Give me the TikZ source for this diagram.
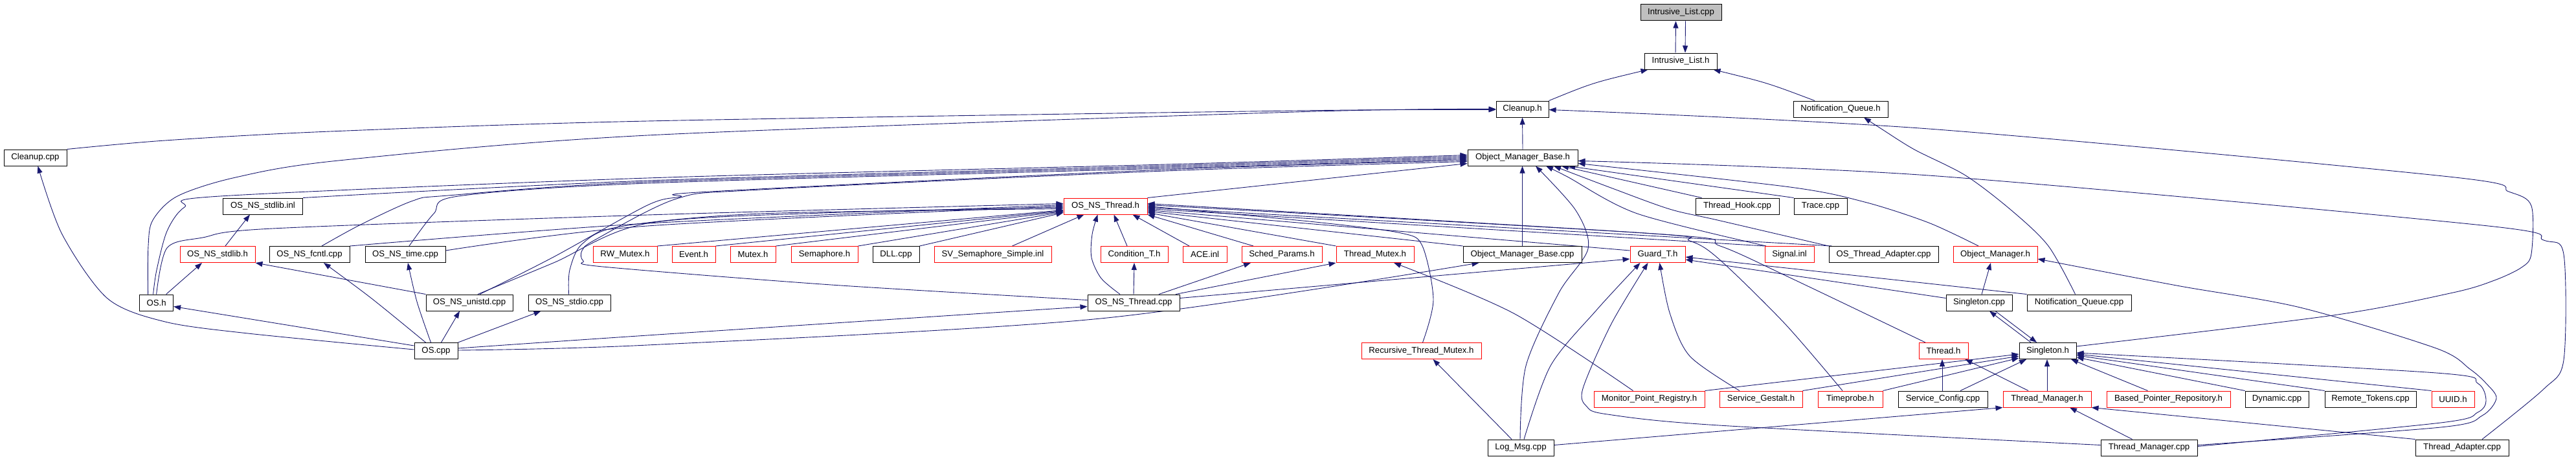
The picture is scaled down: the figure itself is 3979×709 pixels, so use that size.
\documentclass[tikz,border=0pt]{standalone}
\usepackage{fontspec}
\setmainfont{Liberation Sans}
\usetikzlibrary{arrows.meta}
\definecolor{edgec}{HTML}{191970}
\definecolor{boxred}{HTML}{FF0000}
\definecolor{boxgray}{HTML}{BFBFBF}
\newcommand{\nodefont}{\fontsize{13.2}{15}\selectfont}
\pgfdeclarelayer{bg}
\pgfsetlayers{bg,main}
\begin{document}
\begin{tikzpicture}[x=1pt,y=-1pt,
  box/.style={draw=black,line width=1pt,minimum height=25pt,inner sep=0pt,font=\nodefont,fill=white},
  rbox/.style={box,draw=boxred},
  e/.style={draw=edgec,line width=0.9pt,-{Triangle[length=11pt,width=8pt]}}]
\useasboundingbox (0,0) rectangle (3979,709);
% row 0-3
\node[box,fill=boxgray,minimum width=125pt] (ilcpp) at (2596.5,19.5) {Intrusive\_List.cpp};
\node[box,minimum width=112pt] (ilh) at (2596,94.5) {Intrusive\_List.h};
\node[box,minimum width=81pt] (cleanh) at (2351.5,168.5) {Cleanup.h};
\node[box,minimum width=146pt] (nqh) at (2843,168.5) {Notification\_Queue.h};
\node[box,minimum width=97pt] (cleancpp) at (54.5,243.5) {Cleanup.cpp};
\node[box,minimum width=170pt] (omb) at (2352,243.5) {Object\_Manager\_Base.h};
% row 4
\node[box,minimum width=123pt] (stdlibinl) at (406,318.5) {OS\_NS\_stdlib.inl};
\node[rbox,minimum width=129pt] (osnsthreadh) at (1707.5,318.5) {OS\_NS\_Thread.h};
\node[box,minimum width=129pt] (threadhook) at (2683.5,318.5) {Thread\_Hook.cpp};
\node[box,minimum width=82pt] (tracecpp) at (2812,318.5) {Trace.cpp};
% row 5
\node[rbox,minimum width=116pt] (stdlibh) at (336,393) {OS\_NS\_stdlib.h};
\node[box,minimum width=124pt] (fcntl) at (478,393) {OS\_NS\_fcntl.cpp};
\node[box,minimum width=124pt] (timecpp) at (626,393) {OS\_NS\_time.cpp};
\node[rbox,minimum width=99pt] (rwmutex) at (965.5,393) {RW\_Mutex.h};
\node[rbox,minimum width=67pt] (eventh) at (1071.5,393) {Event.h};
\node[rbox,minimum width=70pt] (mutexh) at (1163,393) {Mutex.h};
\node[rbox,minimum width=103pt] (semh) at (1273.5,393) {Semaphore.h};
\node[box,minimum width=72pt] (dllcpp) at (1384,393) {DLL.cpp};
\node[rbox,minimum width=181pt] (svsem) at (1533.5,393) {SV\_Semaphore\_Simple.inl};
\node[rbox,minimum width=104pt] (condt) at (1752,393) {Condition\_T.h};
\node[rbox,minimum width=68pt] (aceinl) at (1861,393) {ACE.inl};
\node[rbox,minimum width=124pt] (sched) at (1980,393) {Sched\_Params.h};
\node[rbox,minimum width=120pt] (thrmutex) at (2124,393) {Thread\_Mutex.h};
\node[box,minimum width=183pt] (ombcpp) at (2351.5,393) {Object\_Manager\_Base.cpp};
\node[rbox,minimum width=85pt] (guardt) at (2560.5,393) {Guard\_T.h};
\node[rbox,minimum width=76pt] (signalinl) at (2764,393) {Signal.inl};
\node[box,minimum width=169pt] (osthradapt) at (2909.5,393) {OS\_Thread\_Adapter.cpp};
\node[rbox,minimum width=130pt] (omh) at (3082,393) {Object\_Manager.h};
% row 6
\node[box,minimum width=52pt] (osh) at (241.6,467.5) {OS.h};
\node[box,minimum width=134pt] (unistd) at (725,467.5) {OS\_NS\_unistd.cpp};
\node[box,minimum width=127pt] (stdio) at (879.5,467.5) {OS\_NS\_stdio.cpp};
\node[box,minimum width=142pt] (osnsthreadcpp) at (1751,467.5) {OS\_NS\_Thread.cpp};
\node[box,minimum width=102pt] (singcpp) at (3057,467.5) {Singleton.cpp};
\node[box,minimum width=161pt] (nqcpp) at (3211.5,467.5) {Notification\_Queue.cpp};
% row 7
\node[box,minimum width=67pt] (oscpp) at (673.5,542) {OS.cpp};
\node[rbox,minimum width=185pt] (recthr) at (2195.5,542) {Recursive\_Thread\_Mutex.h};
\node[rbox,minimum width=76pt] (threadh) at (3002,542) {Thread.h};
\node[box,minimum width=88pt] (singh) at (3163,542) {Singleton.h};
% row 8
\node[rbox,minimum width=171pt] (mpr) at (2547.5,616.5) {Monitor\_Point\_Registry.h};
\node[rbox,minimum width=128pt] (sgest) at (2720,616.5) {Service\_Gestalt.h};
\node[rbox,minimum width=100pt] (tprobe) at (2858,616.5) {Timeprobe.h};
\node[box,minimum width=138pt] (sconf) at (3001,616.5) {Service\_Config.cpp};
\node[rbox,minimum width=136pt] (tmh) at (3162,616.5) {Thread\_Manager.h};
\node[rbox,minimum width=191pt] (bpr) at (3349.5,616.5) {Based\_Pointer\_Repository.h};
\node[box,minimum width=98pt] (dyncpp) at (3517,616.5) {Dynamic.cpp};
\node[box,minimum width=141pt] (rtok) at (3661.5,616.5) {Remote\_Tokens.cpp};
\node[rbox,minimum width=66pt] (uuid) at (3789,616.5) {UUID.h};
% row 9
\node[box,minimum width=102pt] (logmsg) at (2349,691.5) {Log\_Msg.cpp};
\node[box,minimum width=149pt] (tmcpp) at (3319.5,691.5) {Thread\_Manager.cpp};
\node[box,minimum width=144pt] (tacpp) at (3803,691.5) {Thread\_Adapter.cpp};

\begin{pgfonlayer}{bg}
% top
\draw[e] ([xshift=-8pt]ilh.north) -- ([xshift=-8pt]ilcpp.south);
\draw[e] ([xshift=7pt]ilcpp.south) -- ([xshift=7pt]ilh.north);
\draw[e] (cleanh.north east) .. controls (2460,128) .. ([xshift=6pt]ilh.south west);
\draw[e] ([xshift=-40pt]nqh.north) .. controls (2730,128) .. ([xshift=-6pt]ilh.south east);
\draw[e] (omb.north) -- (cleanh.south);
% into Cleanup.h
\draw[e] plot[smooth,tension=0.5] coordinates {(cleancpp.north east) (255,217) (510,203) (1000,187) (2000,171) ([yshift=-1pt]cleanh.west)};
\draw[e] plot[smooth,tension=0.5] coordinates {([xshift=-13pt]osh.north) (229,380) (236,340) (274,303) (364,274) (523,248) (1000,209) (2000,173) (cleanh.west)};
\draw[e] plot[smooth,tension=0.5] coordinates {([yshift=-6pt]singh.north east) (3604,487) (3789,452) (3853,433) (3895,413) (3910,392) (3910,318) (3875,296) (3783,273) (2979,199) ([yshift=-1pt]cleanh.east)};
% OS.cpp -> Cleanup.cpp
\draw[e] plot[smooth,tension=0.5] coordinates {([yshift=2pt]oscpp.west) (383,515) (255,497) (166,461) (96,362) ([xshift=4pt]cleancpp.south)};
% right side into OMB.h
\draw[e] plot[smooth,tension=0.5] coordinates {([xshift=31pt]tacpp.north) (3929,601) (3960,556) (3960,393) (3929,371) (3834,348) (2979,271) ([yshift=-5pt]omb.east)};
\draw[e] plot[smooth,tension=0.5] coordinates {([xshift=-26pt]omh.north) (2979,344) (2880,312) (2765,289) ([yshift=-9pt]omb.east)};
% NQ
\draw[e] plot[smooth,tension=0.5] coordinates {([xshift=-6pt]nqcpp.north) (3164,380) (3107,325) (3036,271) (2957,231) (2906,199) ([xshift=36pt]nqh.south)};
% Object_Manager.h
\draw[e] ([xshift=4pt]singcpp.north) -- ([xshift=-7pt]omh.south);
\draw[e] plot[smooth,tension=0.5] coordinates {([yshift=4pt]tmcpp.east) (3770,660) (3834,642) (3856,615) (3840,592) (3815,570) (3763,538) (3553,475) (3362,441) ([yshift=-7pt]omh.east)};
% Singleton cycle
\draw[e] ([xshift=-26pt]singh.north) -- ([xshift=16pt]singcpp.south);
\draw[e] ([xshift=25pt]singcpp.south) -- ([xshift=-17pt]singh.north);
% Guard_T.h east
\draw[e] (nqcpp.north west) -- ([yshift=-4pt]guardt.east);
\draw[e] ([yshift=7pt]singcpp.west) -- ([yshift=-8pt]guardt.east);
% into Singleton.h
\draw[e] plot[smooth,tension=0.5] coordinates {([yshift=2pt]tmcpp.east) (3770,653) (3827,637) (3840,619) (3827,592) (3763,576) ([yshift=-3pt]singh.east)};
\draw[e] (uuid.north west) -- ([yshift=-5pt]singh.east);
\draw[e] (rtok.north west) -- ([yshift=-7pt]singh.east);
\draw[e] (dyncpp.north west) -- ([yshift=-10pt]singh.east);
\draw[e] ([xshift=-32pt]bpr.north) -- ([xshift=36pt]singh.south);
\draw[e] (tmh.north) -- (tmh.north |- singh.south);
\draw[e] ([xshift=27pt]sconf.north) -- ([xshift=-33pt]singh.south);
\draw[e] (tprobe.north east) -- ([yshift=-11pt]singh.west);
\draw[e] (sgest.north east) -- ([yshift=-8pt]singh.west);
\draw[e] (mpr.north east) -- ([yshift=-5pt]singh.west);
% Thread.h
\draw[e] ([xshift=-1pt]sconf.north) -- ([xshift=-2pt]threadh.south);
\draw[e] ([xshift=-29pt]tmh.north) -- ([xshift=-5pt]threadh.south east);
% Thread_Manager.h
\draw[e] ([yshift=4pt]logmsg.east) -- (tmh.south west);
\draw[e] ([xshift=-26pt]tmcpp.north) -- ([xshift=35pt]tmh.south);
\draw[e] (tacpp.north west) -- (tmh.south east);
% Guard_T.h bottom
\draw[e] plot[smooth,tension=0.5] coordinates {([yshift=4pt]tmcpp.west) (2655,657) (2483,640) (2451,628) (2445,600) (2489,500) ([xshift=-15pt]guardt.south)};
\draw[e] plot[smooth,tension=0.5] coordinates {([xshift=-33pt]sgest.north) (2610,550) (2579,483) ([xshift=3pt]guardt.south)};
\draw[e] plot[smooth,tension=0.5] coordinates {([xshift=5pt]logmsg.north) (2395,565) (2466,479) ([xshift=-27pt]guardt.south)};
% Log_Msg
\draw[e] plot[smooth,tension=0.5] coordinates {([xshift=-1pt]logmsg.north) (2357,565) (2408,452) (2453,384) (2434,325) ([xshift=20pt]omb.south)};
\draw[e] ([xshift=-14pt]logmsg.north) -- ([xshift=18pt]recthr.south);
\draw[e] plot[smooth,tension=0.5] coordinates {([xshift=-25pt]mpr.north) (2338,484) ([xshift=29pt]thrmutex.south)};
% OMB bottom
\draw[e] (ombcpp.north) -- (ombcpp.north |- omb.south);
\draw[e] plot[smooth,tension=0.5] coordinates {([xshift=-36pt]signalinl.north) (2529,330) (2421,273) ([xshift=36pt]omb.south)};
\draw[e] plot[smooth,tension=0.5] coordinates {(osthradapt.north west) (2653,340) (2579,323) (2488,290) ([xshift=48pt]omb.south)};
\draw[e] ([xshift=-55pt]threadhook.north) -- ([xshift=60pt]omb.south);
\draw[e] (tracecpp.north west) -- ([xshift=70pt]omb.south);
\draw[e] (osnsthreadh.north east) -- ([yshift=-9pt]omb.west);
% left bundle into OMB.h
\draw[e] plot[smooth,tension=0.5] coordinates {([xshift=-5pt]osh.north) (242,417) (258,357) (285,320) (340,303) (1000,275) (1800,254) ([yshift=4pt]omb.west)};
\draw[e] plot[smooth,tension=0.5] coordinates {(stdlibinl.north east) (1000,279) (1800,256) ([yshift=2pt]omb.west)};
\draw[e] plot[smooth,tension=0.5] coordinates {([xshift=19pt]fcntl.north) (557,347) (638,310) (692,302) (1000,281) (1800,258) (omb.west)};
\draw[e] plot[smooth,tension=0.5] coordinates {([xshift=6pt]timecpp.north) (670,330) (708,303) (1000,283) (1800,260) ([yshift=-2pt]omb.west)};
\draw[e] plot[smooth,tension=0.5] coordinates {([xshift=16pt]unistd.north) (855,397) (1000,317) (1051,304) (1096,296) (1800,262) ([yshift=-4pt]omb.west)};
\draw[e] plot[smooth,tension=0.5] coordinates {([yshift=4pt]osnsthreadcpp.west) (1284,440) (931,412) (901,403) (899,387) (920,370) (1045,307) (1175,293) (1800,264) ([yshift=-6pt]omb.west)};
% into OS_NS_Thread.h west
\draw[e] plot[smooth,tension=0.5] coordinates {(osh.north) (258,383) (313,367) (421,353) (1000,332) ([yshift=4pt]osnsthreadh.west)};
\draw[e] plot[smooth,tension=0.5] coordinates {(fcntl.north east) (1000,345) ([yshift=2pt]osnsthreadh.west)};
\draw[e] plot[smooth,tension=0.5] coordinates {([yshift=6pt]timecpp.east) (1000,349) (osnsthreadh.west)};
\draw[e] plot[smooth,tension=0.5] coordinates {([xshift=13pt]unistd.north) (855,406) (1000,345) (1300,328) ([yshift=-2pt]osnsthreadh.west)};
\draw[e] plot[smooth,tension=0.5] coordinates {([xshift=-1pt]stdio.north) (880,417) (899,377) (958,350) (1175,330) ([yshift=-4pt]osnsthreadh.west)};
\draw[e] (rwmutex.north east) -- ([yshift=-6pt]osnsthreadh.west);
\draw[e] (eventh.north east) -- ([yshift=-7pt]osnsthreadh.west);
\draw[e] (mutexh.north east) -- ([yshift=-8pt]osnsthreadh.west);
\draw[e] (semh.north east) -- ([yshift=-9pt]osnsthreadh.west);
\draw[e] (dllcpp.north east) -- ([yshift=-10pt]osnsthreadh.west);
\draw[e] ([xshift=30pt]svsem.north) -- ([xshift=-33pt]osnsthreadh.south);
% bottom of OS_NS_Thread.h
\draw[e] plot[smooth,tension=0.5] coordinates {([xshift=-21pt]osnsthreadcpp.north) (1701,430) (1686,398) (1687,362) ([xshift=-12pt]osnsthreadh.south)};
\draw[e] ([xshift=-11pt]condt.north) -- ([xshift=13pt]osnsthreadh.south);
\draw[e] ([xshift=-24pt]aceinl.north) -- ([xshift=42pt]osnsthreadh.south);
\draw[e] ([xshift=-44pt]sched.north) -- (osnsthreadh.south east);
% east of OS_NS_Thread.h
\draw[e] (thrmutex.north west) -- ([yshift=-10pt]osnsthreadh.east);
\draw[e] (ombcpp.north west) -- ([yshift=-8pt]osnsthreadh.east);
\draw[e] ([yshift=6pt]guardt.west) -- ([yshift=-6pt]osnsthreadh.east);
\draw[e] (signalinl.north west) -- ([yshift=-4pt]osnsthreadh.east);
\draw[e] ([xshift=5pt]osthradapt.north west) -- ([yshift=-2pt]osnsthreadh.east);
\draw[e] plot[smooth,tension=0.5] coordinates {([xshift=2pt]recthr.north) (2214,463) (2197,380) (2164,360) (2032,343) (osnsthreadh.east)};
\draw[e] plot[smooth,tension=0.5] coordinates {([xshift=-28pt]threadh.north) (2765,429) (2657,380) (2570,362) ([yshift=2pt]osnsthreadh.east)};
\draw[e] plot[smooth,tension=0.5] coordinates {([xshift=-12pt]tprobe.north) (2757,500) (2655,400) (2610,372) (2540,360) ([yshift=4pt]osnsthreadh.east)};
% OS_NS_Thread.cpp
\draw[e] (osnsthreadcpp.north) -- (condt.south);
\draw[e] ([xshift=39pt]osnsthreadcpp.north) -- ([xshift=-48pt]sched.south);
\draw[e] ([xshift=65pt]osnsthreadcpp.north) -- (thrmutex.south west);
\draw[e] ([yshift=7pt]osnsthreadcpp.east) -- ([yshift=-7pt]guardt.west);
% OS.cpp
\draw[e] plot[smooth,tension=0.5] coordinates {([yshift=4pt]oscpp.east) (1000,518) ([yshift=-6pt]osnsthreadcpp.west)};
\draw[e] plot[smooth,tension=0.5] coordinates {([yshift=1pt]oscpp.east) (1000,533) (1700,492) ([xshift=-67pt]ombcpp.south)};
\draw[e] ([yshift=8pt]oscpp.west) -- ([yshift=-6pt]osh.east);
\draw[e] plot[smooth,tension=0.5] coordinates {([xshift=-16pt]oscpp.north) (574,461) ([xshift=22pt]fcntl.south)};
\draw[e] plot[smooth,tension=0.5] coordinates {([xshift=-8pt]oscpp.north) (644,466) ([xshift=4pt]timecpp.south)};
\draw[e] ([xshift=8pt]oscpp.north) -- ([xshift=-15pt]unistd.south);
\draw[e] (oscpp.north east) -- ([xshift=-44pt]stdio.south);
\draw[e] ([xshift=15pt]osh.north) -- ([xshift=-24pt]stdlibh.south);
\draw[e] (unistd.north west) -- (stdlibh.south east);
\draw[e] ([xshift=12pt]stdlibh.north) -- ([xshift=-20pt]stdlibinl.south);
\end{pgfonlayer}
\end{tikzpicture}
\end{document}
